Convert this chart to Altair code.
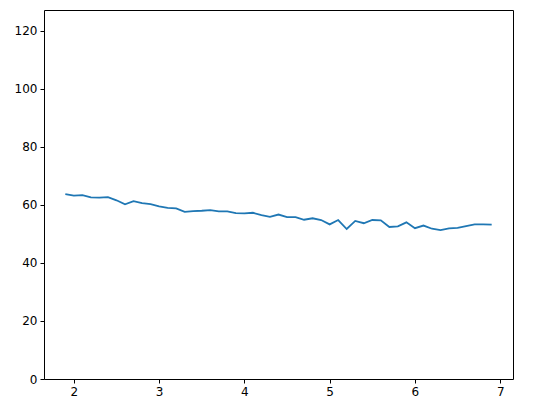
import altair as alt
import pandas as pd

x_vals = [round(1.9 + 0.1 * i, 1) for i in range(51)]
y_vals = [63.7, 63.2, 63.4, 62.6, 62.5, 62.7, 61.6, 60.2, 61.3, 60.6,
          60.3, 59.5, 59.0, 58.8, 57.6, 57.9, 58.0, 58.2, 57.8, 57.8,
          57.2, 57.1, 57.3, 56.5, 55.9, 56.7, 55.8, 55.8, 54.9, 55.4,
          54.8, 53.3, 54.8, 51.7, 54.5, 53.7, 54.8, 54.7, 52.4, 52.6,
          54.0, 52.0, 52.9, 51.8, 51.3, 51.9, 52.1, 52.7, 53.3, 53.3,
          53.2]
x_ticks = [2, 3, 4, 5, 6, 7]
y_ticks = [0, 20, 40, 60, 80, 100, 120]

df = pd.DataFrame({"x": x_vals, "y": y_vals})

axis_common = dict(
    domain=False, grid=False, tickColor="black", tickSize=4, tickWidth=1,
    labelFont="DejaVu Sans", labelFontSize=12, labelColor="black", labelPadding=3,
    title=None,
)

chart = alt.Chart(df).mark_line(color="#1f77b4", strokeWidth=1.8, clip=True).encode(
    x=alt.X("x:Q", scale=alt.Scale(domain=[1.65, 7.15], nice=False, zero=False),
            axis=alt.Axis(values=x_ticks, format="d", **axis_common)),
    y=alt.Y("y:Q", scale=alt.Scale(domain=[0, 127.2], nice=False),
            axis=alt.Axis(values=y_ticks, format="d", **axis_common)),
).properties(
    width=469, height=369,
    autosize=alt.AutoSizeParams(type="none"),
    padding={"left": 36, "top": 2, "right": 30, "bottom": 30},
).configure(
    background="white",
    view=alt.ViewConfig(stroke="black", strokeWidth=1),
)

chart.save("out.html", embed_options={"renderer": "svg", "actions": False})
